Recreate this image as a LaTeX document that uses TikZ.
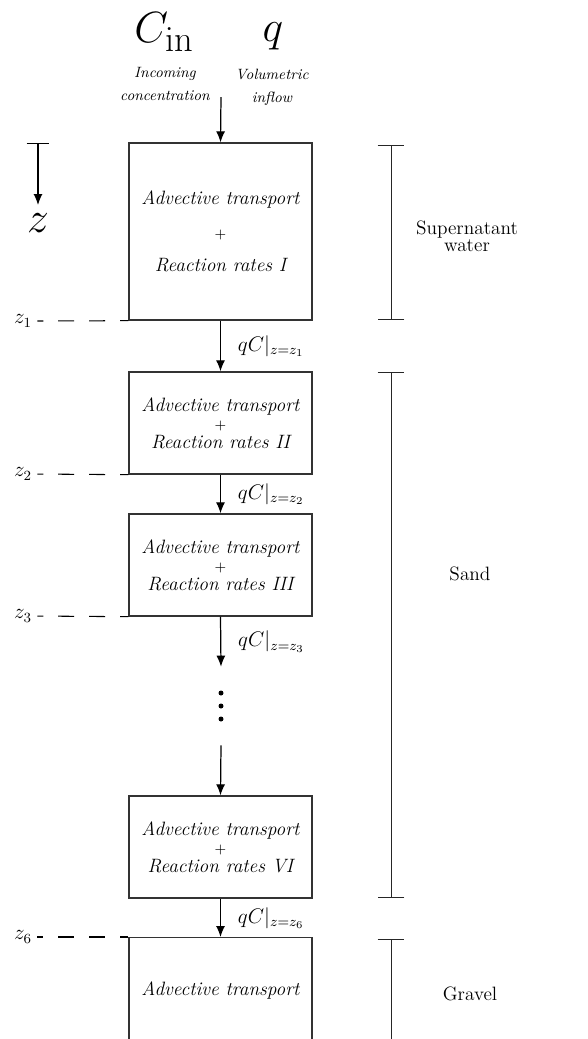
\documentclass[tikz,border=0pt]{standalone}
\usetikzlibrary{arrows.meta}

\tikzset{
  stage/.style={draw=black!80, line width=0.8pt, minimum width=3.66cm, align=center,
    font=\fontsize{11}{10.5}\selectfont\itshape},
  flow/.style={-{Latex[length=2.2mm,width=1.8mm]}, line width=0.7pt},
  layer/.style={line width=0.5pt, black!85},
  depth/.style={dash pattern=on 9.1pt off 8.5pt, dash phase=5.7pt, line width=0.6pt, shorten <=1mm},
  flux/.style={right=2.2mm, font=\fontsize{12}{14}\selectfont},
  note/.style={align=center, font=\fontsize{8.5}{13}\selectfont\itshape},
  zmark/.style={inner sep=0pt, font=\fontsize{12}{14}\selectfont},
  soil/.style={align=center, font=\fontsize{11}{9.5}\selectfont},
}

\begin{document}
\begin{tikzpicture}[x=0.02cm, y=-0.02cm]
  \useasboundingbox (0,0) rectangle (588,1039);

  % inflow at the top
  \node (Cin) at (164,32) {\Huge $C_{\mathrm{in}}$};
  \node (q) at (273,36) {\Huge $q$};
  \node[note] (CinText) at (165,84) {Incoming\\concentration};
  \node[note] (qText) at (272,87) {Volumetric\\inflow};
  \coordinate (inlet) at (221,97);

  % stages of the filter
  \node[stage, minimum height=3.54cm, font=\fontsize{11}{13}\selectfont\itshape] (Water) at (220.5,231.5)
    {Advective transport\\[6pt] {\footnotesize\upshape +}\\[6pt] Reaction rates I};
  \node[stage, minimum height=2.04cm] (Sand1) at (220.5,423)
    {Advective transport\\ {\footnotesize\upshape +}\\ Reaction rates II};
  \node[stage, minimum height=2.04cm] (Sand2) at (220.5,565)
    {Advective transport\\ {\footnotesize\upshape +}\\ Reaction rates III};
  \node[minimum height=1.56cm, inner sep=0pt] (dots) at (221,706) {};
  \node[stage, minimum height=2.04cm] (Sand6) at (220.5,847)
    {Advective transport\\ {\footnotesize\upshape +}\\ Reaction rates VI};
  \node[stage, minimum height=4cm, anchor=north] (Gravel) at (220.5,937) {};
  \node[font=\fontsize{11}{13}\selectfont\itshape] (GravelText) at (220.5,990) {Advective transport};

  % the skipped stages
  \foreach \dy in {-13,0,13}
    \fill ([yshift=-\dy*0.02cm]dots.center) circle (0.05cm);

  \draw[flow] (inlet) -- (Water.north);
  \draw[flow] (Water.south) -- (Sand1.north) node[flux, midway] {$qC|_{z=z_1}$};
  \draw[flow] (Sand1.south) -- (Sand2.north) node[flux, midway] {$qC|_{z=z_2}$};
  \draw[flow] (Sand2.south) -- (dots.north) node[flux, midway] {$qC|_{z=z_3}$};
  \draw[flow] (dots.south) -- (Sand6.north);
  \draw[flow] (Sand6.south) -- (Gravel.north) node[flux, midway] {$qC|_{z=z_6}$};

  % depth axis and levels
  \coordinate (zTop) at (38,143);
  \node[inner sep=0pt, anchor=north] (zAxis) at (38,213) {\Huge $z$};
  \draw[{Bar[width=4.6mm]}-{Latex[length=2.2mm,width=1.8mm]}, line width=0.7pt, shorten >=1.6mm] (zTop) -- (zAxis.north);

  \node[zmark] (z1) at (23,321) {$z_1$};
  \node[zmark] (z2) at (23,474) {$z_2$};
  \node[zmark] (z3) at (23,616) {$z_3$};
  \node[zmark] (z6) at (23,937) {$z_6$};
  \draw[depth] (z1.east) -- (Water.south west);
  \draw[depth] (z2.east) -- (Sand1.south west);
  \draw[depth] (z3.east) -- (Sand2.south west);
  \draw[depth] (z6.east) -- (Gravel.north west);

  % layers on the right
  \coordinate (waterTop) at (391,145);
  \coordinate (waterBot) at (391,320);
  \coordinate (sandTop) at (391,372);
  \coordinate (sandBot) at (391,898);
  \coordinate (gravelTop) at (391,939);
  \coordinate (gravelBot) at (391,1080);
  \draw[layer, {Bar[width=5.4mm]}-{Bar[width=5.4mm]}] (waterTop) -- (waterBot);
  \draw[layer, {Bar[width=5.4mm]}-{Bar[width=5.4mm]}] (sandTop) -- (sandBot);
  \draw[layer, {Bar[width=5.4mm]}-] (gravelTop) -- (gravelBot);

  \node[soil] (waterName) at (467,236) {Supernatant\\water};
  \node[soil] (sandName) at (470,574) {Sand};
  \node[soil] (gravelName) at (470,994) {Gravel};
\end{tikzpicture}
\end{document}
